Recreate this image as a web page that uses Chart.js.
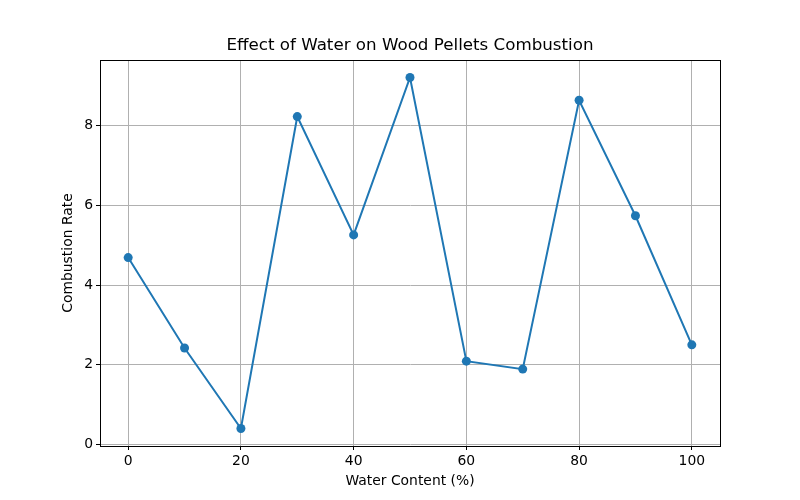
<!DOCTYPE html>
<html>
<head>
<meta charset="utf-8">
<script src="https://cdn.jsdelivr.net/npm/chart.js@4/dist/chart.umd.min.js"></script>
<style>
  html, body { margin: 0; padding: 0; background: #fff; }
  #wrap { width: 800px; height: 500px; }
</style>
</head>
<body>
<div id="wrap"><canvas id="combustionChart" width="800" height="500"></canvas></div>
<script>
// data
var waterContent = [0, 10, 20, 30, 40, 50, 60, 70, 80, 90, 100];
var combustionRate = [4.69, 2.42, 0.40, 8.23, 5.26, 9.21, 2.09, 1.89, 8.64, 5.74, 2.50];
var xTicks = [0, 20, 40, 60, 80, 100];
var yTicks = [0, 2, 4, 6, 8];
var chartTitle = 'Effect of Water on Wood Pellets Combustion';

document.addEventListener("DOMContentLoaded", function() {
  Chart.defaults.font.family = "'DejaVu Sans', sans-serif";
  Chart.defaults.color = '#000';

  // matplotlib-like box around the plot area, title centred over the axes
  var frame = {
    id: 'frame',
    afterDraw: function(chart) {
      var a = chart.chartArea, ctx = chart.ctx;
      ctx.save();
      ctx.strokeStyle = '#000';
      ctx.lineWidth = 1;
      ctx.strokeRect(a.left + 0.5, a.top + 0.5, a.right - a.left, a.bottom - a.top);
      ctx.fillStyle = '#000';
      ctx.font = "16.7px 'DejaVu Sans', sans-serif";
      ctx.textAlign = 'center';
      ctx.textBaseline = 'middle';
      ctx.fillText(chartTitle, (a.left + a.right) / 2, 46);
      ctx.restore();
    }
  };

  var ctx = document.getElementById('combustionChart').getContext('2d');
  new Chart(ctx, {
    type: 'line',
    data: {
      datasets: [{
        label: 'Combustion Rate',
        data: waterContent.map(function(x, i) { return { x: x, y: combustionRate[i] }; }),
        borderColor: '#1f77b4',
        backgroundColor: '#1f77b4',
        borderWidth: 2,
        pointRadius: 4.5,
        pointBorderWidth: 0,
        tension: 0
      }]
    },
    options: {
      responsive: false,
      animation: false,
      layout: { padding: { left: 0, right: 80, top: 60, bottom: 0 } },
      plugins: {
        legend: { display: false },
        tooltip: { enabled: false },
        title: { display: false }
      },
      scales: {
        x: {
          type: 'linear',
          min: -5,
          max: 105,
          afterBuildTicks: function(scale) {
            scale.ticks = xTicks.map(function(v) { return { value: v }; });
          },
          afterFit: function(scale) { scale.height = 54; },
          grid: { color: '#b0b0b0', tickColor: '#000', tickLength: 4, lineWidth: 1 },
          border: { color: '#000' },
          ticks: { font: { size: 13.9 }, padding: 3, maxRotation: 0 },
          title: {
            display: true,
            text: 'Water Content (%)',
            font: { size: 13.9 },
            padding: { top: 0, bottom: 10 }
          }
        },
        y: {
          min: -0.04,
          max: 9.65,
          afterBuildTicks: function(scale) {
            scale.ticks = yTicks.map(function(v) { return { value: v }; });
          },
          afterFit: function(scale) { scale.width = 100; },
          grid: { color: '#b0b0b0', tickColor: '#000', tickLength: 4, lineWidth: 1 },
          border: { color: '#000' },
          ticks: { font: { size: 13.9 }, padding: 3 },
          title: {
            display: true,
            text: 'Combustion Rate',
            font: { size: 13.9 },
            padding: { top: 60, bottom: 0 }
          }
        }
      }
    },
    plugins: [frame]
  });
});
</script>
</body>
</html>
